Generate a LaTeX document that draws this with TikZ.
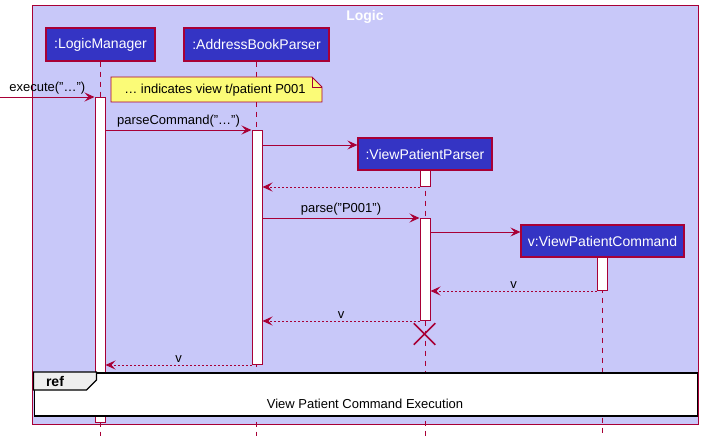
\documentclass[tikz,border=0pt]{standalone}
\usepackage{fontspec}
\setmainfont{Liberation Sans}
\usetikzlibrary{arrows.meta,shapes.misc}

\definecolor{umlred}{HTML}{A80036}
\definecolor{umlframe}{HTML}{C8C8F9}
\definecolor{umlblue}{HTML}{3434C4}
\definecolor{umlnote}{HTML}{FBFB77}
\definecolor{umltab}{HTML}{EEEEEE}

\begin{document}
\begin{tikzpicture}[x=1pt,y=-1pt,
        participant/.style={draw=umlred,fill=umlblue,line width=1.2pt,text=white,
            font=\fontsize{14}{16}\selectfont,inner sep=0pt,minimum height=33pt},
        lifeline/.style={draw=umlred,line width=0.8pt,dash pattern=on 5pt off 5pt},
        act/.style={draw=umlred,fill=white,line width=1pt,minimum width=10pt,
            inner sep=0pt,anchor=north},
        msg/.style={draw=umlred,line width=0.9pt,-{Stealth[length=10pt,width=9pt,inset=4pt]}},
        ret/.style={msg,dash pattern=on 2pt off 2pt},
        msglabel/.style={font=\fontsize{13}{15}\selectfont,above=1pt,inner sep=1pt}]
        \useasboundingbox (0,0) rectangle (702,436);
        % frame
        \draw[draw=umlred,fill=umlframe,line width=1pt] (32,6) rectangle (698,424);
        \node[text=white,font=\bfseries\fontsize{14}{16}\selectfont] (title) at (365,17) {Logic};
        % participants
        \node[participant,minimum width=109pt] (lm) at (100.5,44.5) {:LogicManager};
        \node[participant,minimum width=145pt] (abp) at (256.5,44.5) {:AddressBookParser};
        \coordinate (bottom) at (0,436);
        \draw[lifeline] (lm.south) -- (lm.south |- bottom);
        \draw[lifeline] (abp.south) -- (abp.south |- bottom);
        % message heights
        \coordinate (m1) at (0,97);
        \coordinate (m2) at (0,130);
        \coordinate (m3) at (0,145);
        \coordinate (m5) at (0,218);
        \coordinate (m6) at (0,232);
        \node[participant,minimum width=134pt,minimum height=32pt] (vpp) at (425,154) {:ViewPatientParser};
        \node[participant,minimum width=163pt,minimum height=32pt] (vpc) at (602.5,241) {v:ViewPatientCommand};
        \draw[lifeline] (vpp.south) -- (vpp.south |- bottom);
        \draw[lifeline] (vpc.south) -- (vpc.south |- bottom);
        % note
        \draw[draw=umlred,fill=umlnote,line width=0.8pt] (111,77) -- (312,77) -- (322,87) -- (322,102) -- (111,102) -- cycle;
        \draw[draw=umlred,line width=0.8pt] (312,77) -- (312,87) -- (322,87);
        \node[font=\fontsize{13}{15}\selectfont] (note) at (215,90) {… indicates view t/patient P001};
        % activations
        \node[act,minimum height=325pt] (alm) at (100,97) {};
        \node[act,minimum height=234pt] (aabp) at (257,130) {};
        \node[act,minimum height=16pt] (avpp) at (425,170) {};
        \node[act,minimum height=102pt] (avpp2) at (425,218) {};
        \node[act,minimum height=33pt] (avpc) at (602,257) {};
        % messages
        \coordinate (caller) at (0,97);
        \draw[msg] (caller) -- (alm.north west) node[msglabel,midway] {execute("…")};
        \draw[msg] (alm.east |- m2) -- (aabp.north west) node[msglabel,midway] {parseCommand("…")};
        \draw[msg] (aabp.east |- m3) -- (vpp.west |- m3);
        \draw[ret] (avpp.south west) -- (aabp.east |- avpp.south);
        \draw[msg] (aabp.east |- m5) -- (avpp2.north west) node[msglabel,midway] {parse("P001")};
        \draw[msg] (avpp2.east |- m6) -- (vpc.west |- m6);
        \draw[ret] (avpc.south west) -- (avpp2.east |- avpc.south) node[msglabel,midway] {v};
        \draw[ret] (avpp2.south west) -- (aabp.east |- avpp2.south) node[msglabel,midway] {v};
        \draw[ret] (aabp.south west) -- (alm.east |- aabp.south) node[msglabel,midway] {v};
        % destroy
        \node[cross out,draw=umlred,line width=1.5pt,minimum size=20pt,inner sep=0pt] (kill) at (424.5,334) {};
        % ref
        \node[draw=black,fill=white,line width=1.5pt,minimum width=663pt,minimum height=43pt,
            anchor=north west,inner sep=0pt] (ref) at (33.5,372) {};
        \draw[draw=black,fill=umltab,line width=1.2pt] (ref.north west) -- ++(63,0) -- ++(0,8) -- ++(-10,10) -- ++(-53,0) -- cycle;
        \node[font=\bfseries\fontsize{14}{16}\selectfont] (reftag) at (55,381) {ref};
        \node[font=\fontsize{13}{15}\selectfont] (reftext) at (365,403.5) {View Patient Command Execution};
    \end{tikzpicture}
\end{document}
